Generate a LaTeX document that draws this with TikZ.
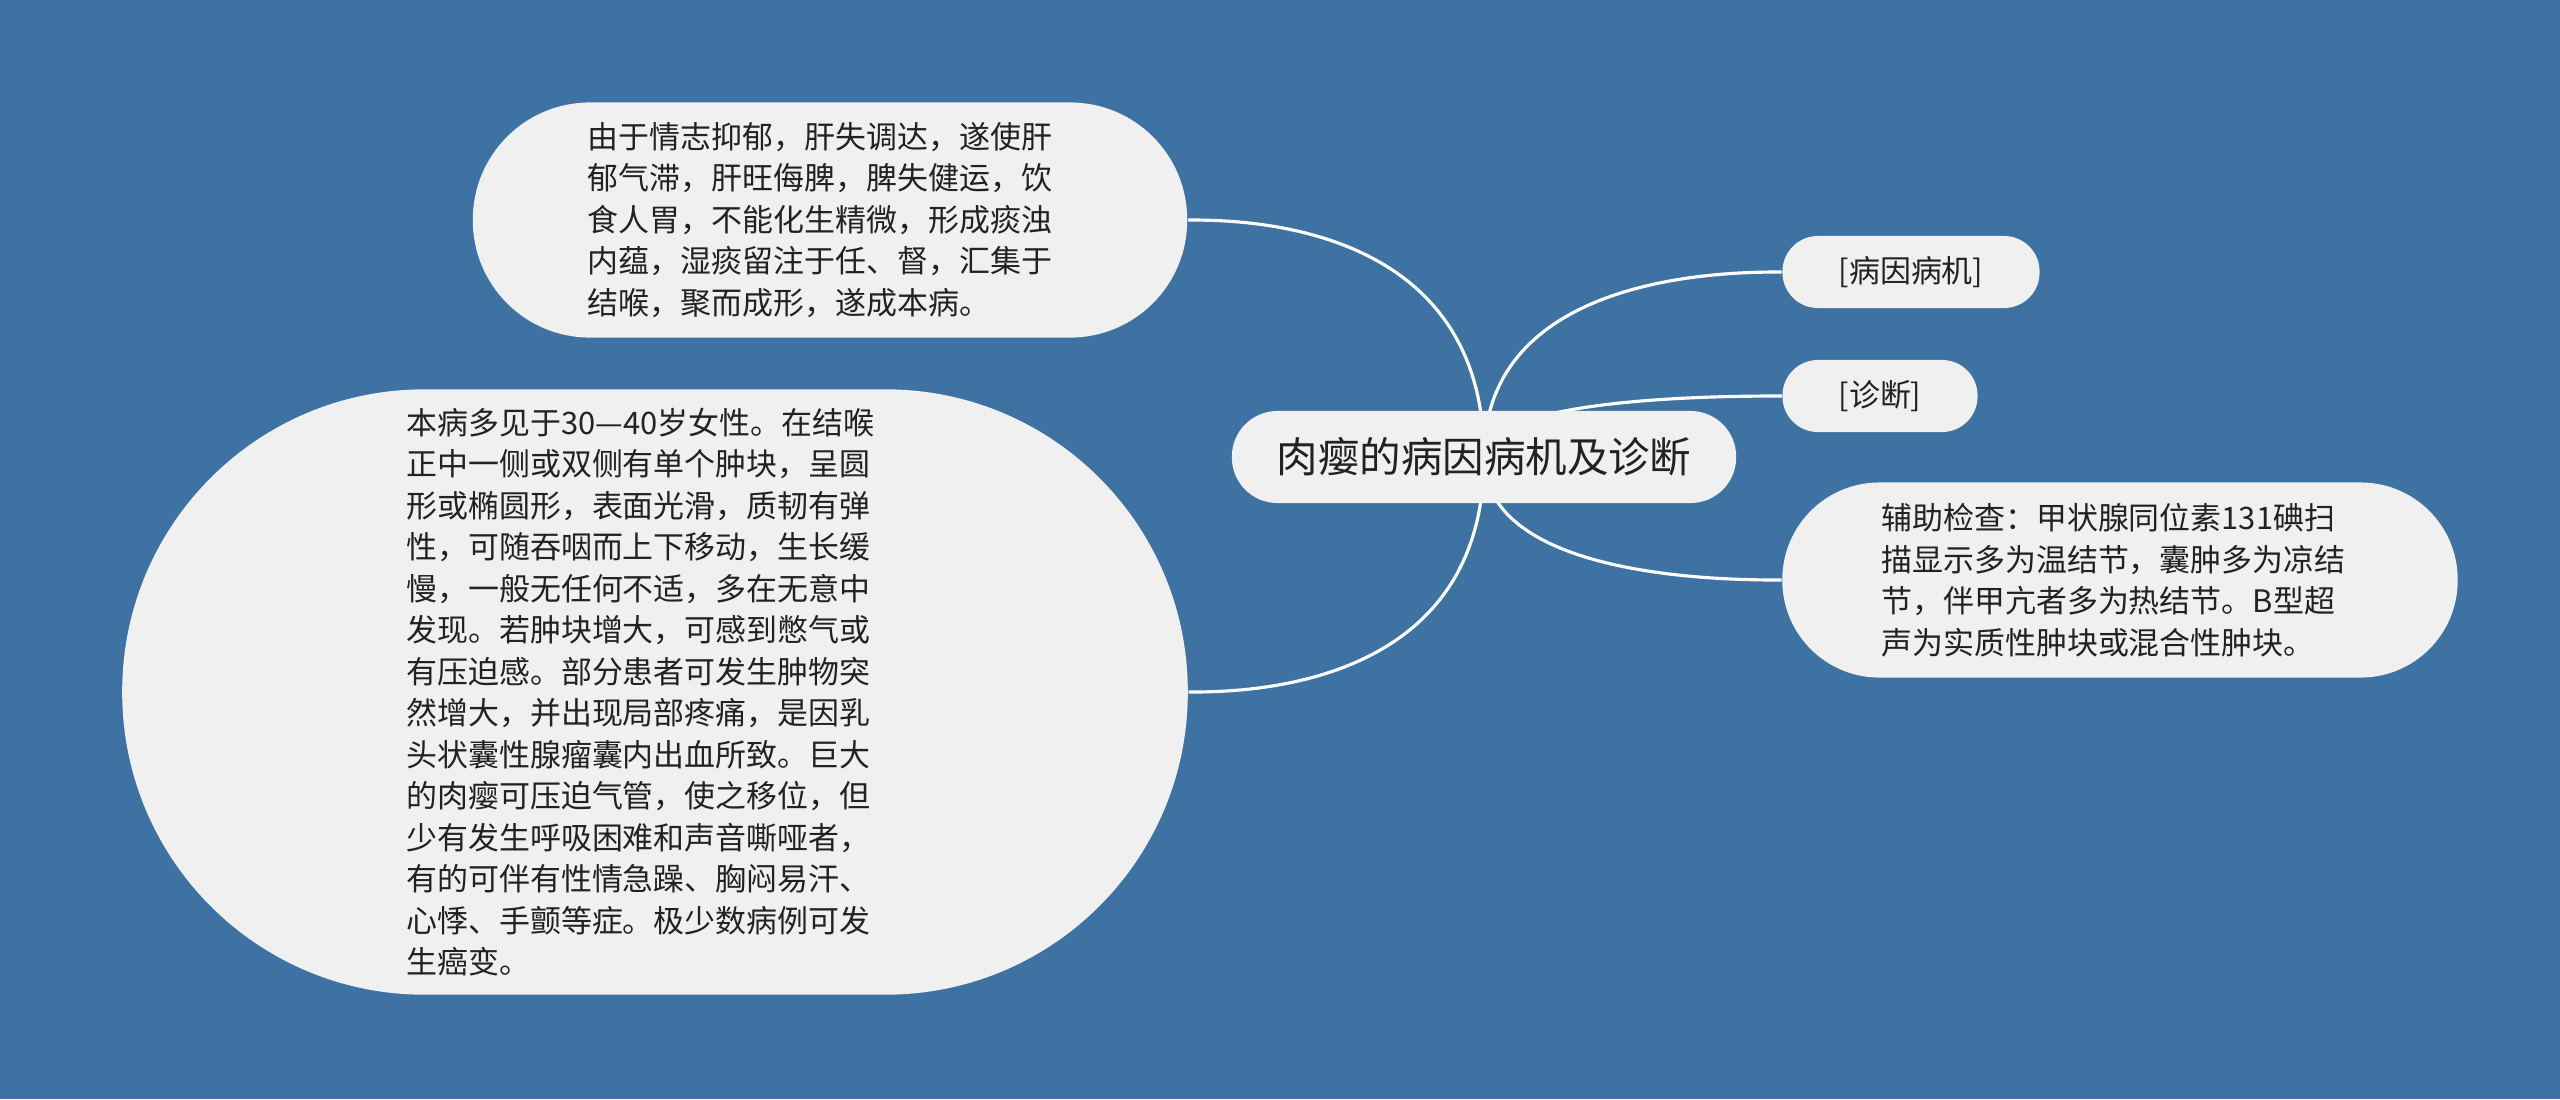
\documentclass[tikz,border=0pt]{standalone}
\usepackage{fontspec}
\setmainfont{Noto Sans CJK SC}
\usetikzlibrary{calc}
\definecolor{bgblue}{HTML}{3E72A3}
\definecolor{bubblegray}{HTML}{F0F0F0}
\definecolor{inkgray}{HTML}{222222}
\pgfdeclarelayer{back}
\pgfdeclarelayer{links}
\pgfsetlayers{back,links,main}

\begin{document}
\begin{tikzpicture}[x=0.01cm,y=-0.01cm,
        bubble/.style={fill=bubblegray,text=inkgray,inner sep=0pt,align=left,font=\fontsize{8.8pt}{11.8pt}\selectfont},
        tag/.style={bubble,minimum height=0.72cm,rounded corners=0.355cm},
        link/.style={white,line width=0.9pt}]
        \begin{pgfonlayer}{back}
        \fill[bgblue](0,0)rectangle(2560,1099);
        \end{pgfonlayer}

        \node[bubble,minimum width=5.04cm,minimum height=0.92cm,rounded corners=0.455cm,font=\fontsize{11.8pt}{14pt}\selectfont](root)at(1484,457){肉瘿的病因病机及诊断};

        \node[bubble,text width=4.84cm,minimum width=7.14cm,minimum height=2.35cm,rounded corners=1.17cm](cause)at(830,220){由于情志抑郁，肝失调达，遂使肝\\郁气滞，肝旺侮脾，脾失健运，饮\\食人胃，不能化生精微，形成痰浊\\内蕴，湿痰留注于任、督，汇集于\\结喉，聚而成形，遂成本病。};
        \node[bubble,text width=4.97cm,minimum width=10.65cm,minimum height=6.05cm,rounded corners=3.02cm](clinic)at(655,692){本病多见于30—40岁女性。在结喉\\正中一侧或双侧有单个肿块，呈圆\\形或椭圆形，表面光滑，质韧有弹\\性，可随吞咽而上下移动，生长缓\\慢，一般无任何不适，多在无意中\\发现。若肿块增大，可感到憋气或\\有压迫感。部分患者可发生肿物突\\然增大，并出现局部疼痛，是因乳\\头状囊性腺瘤囊内出血所致。巨大\\的肉瘿可压迫气管，使之移位，但\\少有发生呼吸困难和声音嘶哑者，\\有的可伴有性情急躁、胸闷易汗、\\心悸、手颤等症。极少数病例可发\\生癌变。};

        \node[tag,minimum width=2.57cm](cause tag)at(1911,272){[病因病机]};
        \node[tag,minimum width=1.95cm](diag tag)at(1880,396){[诊断]};
        \node[bubble,text width=4.77cm,minimum width=6.75cm,minimum height=1.95cm,rounded corners=0.97cm](exam)at(2120,580){辅助检查：甲状腺同位素131碘扫\\描显示多为温结节，囊肿多为凉结\\节，伴甲亢者多为热结节。B型超\\声为实质性肿块或混合性肿块。};

        \begin{pgfonlayer}{links}
        \draw[link](root.center)..controls(root.center|-cause.east)and($(cause.east)+(50,0)$)..(cause.east);
        \draw[link](root.center)..controls(root.center|-clinic.east)and($(clinic.east)+(50,0)$)..(clinic.east);
        \draw[link](root.center)..controls(root.center|-cause tag.west)and($(cause tag.west)+(-50,0)$)..(cause tag.west);
        \draw[link](root.center)..controls(root.center|-diag tag.west)and($(diag tag.west)+(-50,0)$)..(diag tag.west);
        \draw[link](root.center)..controls(root.center|-exam.west)and($(exam.west)+(-50,0)$)..(exam.west);
        \end{pgfonlayer}
    \end{tikzpicture}
\end{document}
